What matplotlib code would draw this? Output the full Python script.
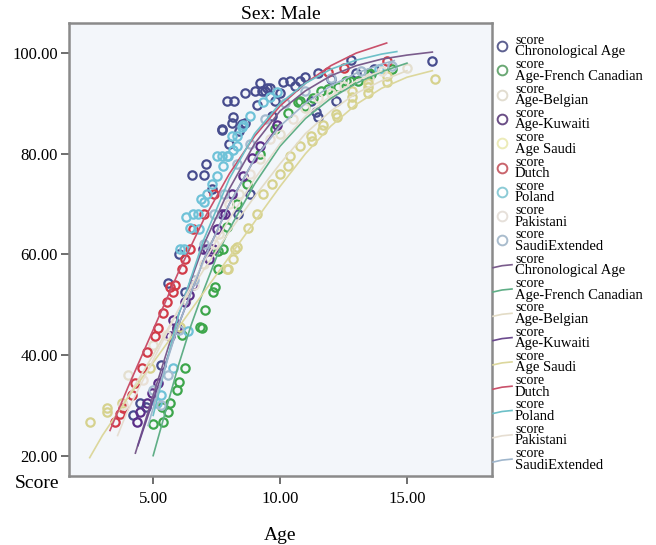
import matplotlib
matplotlib.use("Agg")
import matplotlib.pyplot as plt
from matplotlib.lines import Line2D

plt.rcParams['font.family'] = ['Liberation Serif', 'DejaVu Serif']

# series names as shown in the legend
names = ["Chronological Age", "Age-French Canadian", "Age-Belgian", "Age-Kuwaiti",
         "Age Saudi", "Dutch", "Poland", "Pakistani", "SaudiExtended"]

# observed points (age, score)
chron_x = [4.5, 4.7, 5.6, 5.95, 6.25, 6.55, 7.0, 7.1, 7.7, 8.15, 8.2, 8.35, 8.8, 8.6, 9.0, 9.1, 9.3, 9.5,
           9.8, 10.1, 10.4, 10.8, 11.2, 11.4, 11.5, 11.5, 12.2, 12.8, 13.7, 16.0, 8.5, 9.6, 10.0, 9.2,
           8.0, 8.4, 7.9, 9.7, 10.6, 11.0, 12.0, 13.0, 7.3, 6.0, 5.3, 4.2, 7.7, 8.1, 8.6, 9.4]
chron_y = [30.5, 29.7, 54.4, 45.4, 52.6, 75.7, 75.7, 77.9, 85.0, 87.2, 90.4, 68.0, 71.9, 92.0, 92.4, 89.6, 92.4, 93.0,
           90.4, 94.2, 94.4, 94.4, 90.4, 88.2, 87.2, 96.0, 90.4, 98.7, 96.8, 98.5, 86.0, 93.0, 92.0, 94.0,
           82.0, 84.5, 90.5, 87.5, 93.5, 95.2, 94.8, 96.0, 73.0, 60.0, 38.0, 28.0, 84.8, 86.2, 86.2, 92.4]

french_x = [5.0, 5.35, 5.4, 5.6, 5.67, 5.95, 6.0, 6.14, 6.26, 6.85, 6.93, 7.05, 7.36, 7.44, 7.56, 7.56, 7.76,
            7.9, 8.3, 8.7, 9.2, 9.8, 10.3, 10.7, 10.8, 11.3, 11.6, 11.9, 12.6, 12.76, 13.07, 13.5, 13.6,
            14.4, 12.3, 11.0]
french_y = [26.2, 29.7, 26.6, 28.7, 30.5, 33.0, 34.7, 44.0, 37.5, 45.6, 45.4, 49.0, 52.6, 53.6, 57.0, 60.6, 61.0,
            65.5, 70.0, 74.0, 80.0, 85.0, 88.0, 90.2, 90.4, 91.0, 92.4, 92.8, 94.4, 94.4, 94.4, 96.0, 95.8,
            96.8, 93.2, 89.5]

belgian_x = [4.0, 5.0, 6.3, 7.0, 7.6, 8.4, 9.2, 10.0, 11.0, 12.0, 13.5, 15.0]
belgian_y = [36.0, 42.0, 51.0, 58.0, 64.0, 72.0, 79.0, 84.0, 89.0, 92.0, 95.0, 97.0]

kuwaiti_x = [4.37, 4.5, 4.76, 4.96, 5.2, 5.67, 5.95, 6.26, 6.57, 6.97, 7.13, 7.2, 7.36, 7.5, 7.72, 7.85,
             8.1, 8.54, 8.9, 9.2, 9.88, 6.4, 5.8]
kuwaiti_y = [26.6, 28.7, 30.5, 32.5, 34.5, 43.7, 45.4, 50.6, 54.0, 61.0, 61.0, 59.0, 61.0, 65.0, 68.0, 68.0,
             72.0, 75.5, 79.2, 81.5, 85.8, 52.0, 47.0]

saudi_x = [2.52, 3.19, 3.19, 3.78, 4.88, 6.06, 7.9, 7.95, 8.15, 8.23, 8.3, 8.74, 9.1, 9.33, 9.68, 10.0,
           10.3, 10.4, 10.8, 11.2, 11.25, 11.65, 11.7, 12.2, 12.25, 12.83, 12.83, 12.83, 13.46, 13.46,
           13.46, 14.2, 14.2, 16.1]
saudi_y = [26.6, 28.7, 29.5, 30.5, 37.5, 45.6, 57.0, 57.0, 59.0, 61.0, 61.4, 65.3, 68.0, 72.0, 74.0, 76.0,
           77.5, 79.5, 81.5, 83.5, 82.5, 84.8, 85.8, 87.8, 87.2, 92.4, 91.2, 89.8, 94.0, 93.2,
           92.0, 95.4, 94.2, 94.8]

dutch_x = [3.5, 3.7, 3.8, 4.17, 4.29, 4.57, 4.75, 5.08, 5.2, 5.4, 5.55, 5.67, 5.79, 5.85, 6.14, 6.26,
           6.46, 6.57, 7.0, 7.4, 11.9, 14.2, 12.5]
dutch_y = [26.6, 28.2, 29.5, 32.0, 34.5, 37.5, 40.5, 43.7, 45.4, 48.4, 50.6, 53.6, 52.6, 54.0, 57.0, 59.0,
           61.0, 65.0, 68.0, 72.0, 96.3, 98.5, 97.0]

poland_x = [5.16, 5.3, 5.79, 6.06, 6.2, 6.38, 6.46, 6.57, 6.75, 7.13, 7.32, 7.5, 7.5, 7.7, 7.76, 7.95,
            8.1, 8.3, 8.3, 8.54, 8.8, 9.33, 9.6, 9.88, 13.9, 6.3, 6.9, 7.9, 8.15, 8.5, 7.0, 6.8]
poland_y = [30.5, 32.0, 37.5, 61.0, 61.0, 44.7, 65.3, 68.0, 68.0, 72.0, 74.0, 75.5, 79.5, 79.5, 77.5, 79.5,
            83.5, 81.5, 83.5, 85.8, 87.5, 90.2, 91.2, 92.2, 96.8, 67.5, 71.0, 79.5, 80.8, 85.4, 70.5, 65.0]

pakistani_x = [3.8, 4.6, 5.5, 6.6, 7.4, 8.0, 8.8, 9.6, 10.5, 11.5, 12.5, 14.0]
pakistani_y = [30.0, 35.0, 44.0, 54.0, 62.0, 70.0, 76.0, 83.0, 87.0, 91.0, 93.5, 96.5]

saudiext_x = [5.0, 5.3, 5.6, 6.0, 6.6, 7.0, 7.4, 7.8, 8.3, 8.8, 9.4, 10.2, 11.0, 12.0, 13.2, 14.4]
saudiext_y = [33.0, 30.0, 36.0, 45.0, 55.0, 62.0, 68.0, 72.0, 78.0, 82.0, 87.0, 90.0, 92.5, 95.0, 96.5, 97.5]

# fitted curves
chron_fx = [4.3, 5, 6, 7, 8, 9, 10, 11, 12, 13, 14, 15, 16]
chron_fy = [20.5, 32, 48, 62, 73, 82, 88.5, 92.5, 95.5, 97.5, 98.8, 99.6, 100.2]
french_fx = [5.0, 5.5, 6, 6.5, 7, 7.5, 8, 9, 10, 11, 12, 13, 14, 15]
french_fy = [20, 29, 38, 46, 53, 59.5, 65, 74, 81.5, 87, 91, 94, 96.3, 98]
belgian_fx = [3.8, 5, 6, 7, 8, 9, 10, 11, 12, 13, 14, 15]
belgian_fy = [30, 40, 49, 57, 64.5, 71.5, 78, 84, 88.5, 92, 94.5, 96.5]
kuwaiti_fx = [4.4, 5, 6, 7, 8, 9, 10]
kuwaiti_fy = [22, 31, 46, 59, 70, 79, 86]
saudi_fx = [2.5, 3, 4, 5, 6, 7, 8, 9, 10, 11, 12, 13, 14, 15, 16]
saudi_fy = [19.6, 24, 31.5, 38.5, 45.5, 52.5, 59.5, 66.5, 73.5, 80, 85.5, 89.8, 93, 95.2, 96.5]
dutch_fx = [3.3, 4, 5, 6, 7, 8, 9, 10, 11, 12, 13, 14.2]
dutch_fy = [25, 33.5, 45, 56.5, 67, 76, 83.5, 89.5, 94, 97.5, 100, 102]
poland_fx = [5.0, 5.5, 6, 7, 8, 9, 10, 11, 12, 13, 14, 14.6]
poland_fy = [28, 38, 48, 63, 75, 84, 90, 94, 96.8, 98.6, 99.8, 100.3]
pakistani_fx = [3.6, 4, 5, 6, 7, 8, 9, 10, 11, 12, 13, 14]
pakistani_fy = [24, 29, 39, 49, 58.5, 67, 75, 82, 87.5, 91.5, 94.5, 96.5]
saudiext_fx = [4.8, 5.5, 6, 7, 8, 9, 10, 11, 12, 13, 14, 14.5]
saudiext_fy = [26, 38, 46, 59, 70, 79, 85.5, 90, 93.5, 96, 97.8, 98.5]

points = [(chron_x, chron_y), (french_x, french_y), (belgian_x, belgian_y), (kuwaiti_x, kuwaiti_y),
          (saudi_x, saudi_y), (dutch_x, dutch_y), (poland_x, poland_y), (pakistani_x, pakistani_y),
          (saudiext_x, saudiext_y)]
fits = [(chron_fx, chron_fy), (french_fx, french_fy), (belgian_fx, belgian_fy), (kuwaiti_fx, kuwaiti_fy),
        (saudi_fx, saudi_fy), (dutch_fx, dutch_fy), (poland_fx, poland_fy), (pakistani_fx, pakistani_fy),
        (saudiext_fx, saudiext_fy)]

point_colors = ['#474d8e', '#3da64b', '#e4dfcf', '#5a2e88', '#d6d28e', '#d23a47', '#6fc2d8', '#e9e1d7', '#a5bcd0']
line_colors = ['#7a5c8c', '#5fae86', '#e3dcc6', '#6b4a8e', '#dcd79c', '#c9506a', '#6cc0c8', '#e6ded2', '#9fb6cc']
legend_marker_colors = ['#5d6090', '#6aa874', '#e2ddd0', '#6a4e86', '#ecebb8', '#c9646c', '#8ccbd6', '#e6e0da', '#a9bccd']

W, H = 656, 545
fig = plt.figure(figsize=(W / 100, H / 100), dpi=100)
ax = fig.add_axes([0.105, 0.127, 0.645, 0.831])
ax.set_facecolor('#f3f6fa')

for (xs, ys), c in zip(points, point_colors):
    ax.plot(xs, ys, 'o', ms=6, mfc='none', mec=c, mew=1.6, zorder=2)
for (xs, ys), c in zip(fits, line_colors):
    ax.plot(xs, ys, '-', color=c, lw=1.2, zorder=3)

ax.set_xlim(1.68, 18.35)
ax.set_ylim(16, 106)
ax.set_xticks([5, 10, 15])
ax.set_xticklabels(['5.00', '10.00', '15.00'])
ax.set_yticks([20, 40, 60, 80, 100])
ax.set_yticklabels(['20.00', '40.00', '60.00', '80.00', '100.00'])
ax.tick_params(labelsize=12, length=6, width=1.2, color='#555555', pad=2)
ax.tick_params(axis='x', pad=5)
for s in ax.spines.values():
    s.set_color('#8a8a8a')
    s.set_linewidth(1.8)

ax.set_title('Sex: Male', fontsize=14, pad=2)
ax.set_xlabel('Age', fontsize=14, labelpad=14)
ax.text(-0.076, -0.017, 'Score', transform=ax.transAxes, fontsize=14, ha='center', va='center')

# legend drawn by hand: small "score" line above the series name
step = 24.3
for i in range(18):
    k = i % 9
    yc = 46 + i * step
    if i < 9:
        fig.add_artist(Line2D([502 / W], [1 - yc / H], transform=fig.transFigure, ls='none', marker='o',
                              ms=7, mfc='none', mec=legend_marker_colors[k], mew=1.4))
    else:
        fig.add_artist(Line2D([493 / W, 502 / W, 512 / W], [1 - (yc + 3) / H, 1 - (yc + 1) / H, 1 - yc / H],
                              transform=fig.transFigure, color=line_colors[k], lw=1.2))
    fig.text(515 / W, 1 - (yc - 5.5) / H, 'score', fontsize=10, ha='left', va='center')
    fig.text(515 / W, 1 - (yc + 6) / H, names[k], fontsize=10.5, ha='left', va='center')

fig.savefig('out.png', dpi=100)
